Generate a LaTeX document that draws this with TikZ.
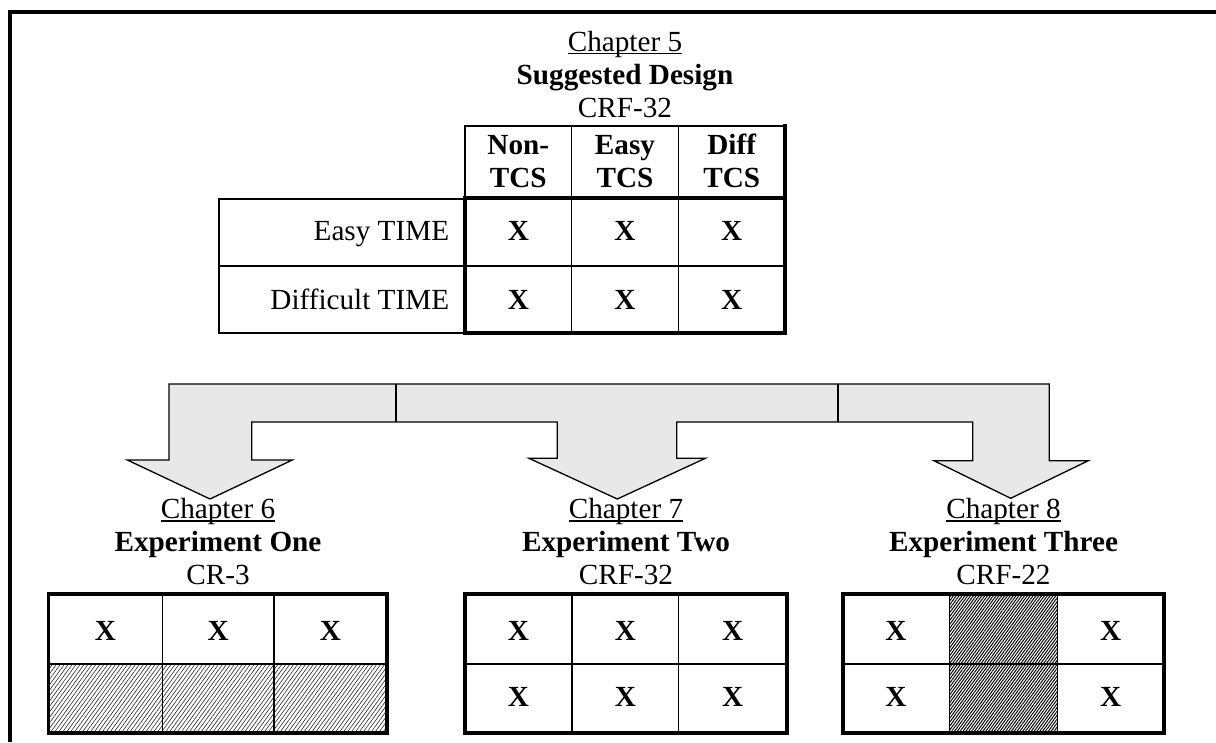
\documentclass[tikz,border=0pt]{standalone}
\usepackage{fontspec}
\setmainfont{Liberation Serif}
\usetikzlibrary{patterns.meta}
\definecolor{arrowfill}{RGB}{232,232,232}
% underline that runs just under the baseline, through descenders
\newcommand\chapline[1]{\setbox0\hbox{#1}\rlap{\rule[-3.4pt]{\wd0}{1.3pt}}\box0}
\begin{document}
\begin{tikzpicture}[x=1pt,y=-1pt,
  txt/.style={inner sep=0pt, anchor=base, font=\fontsize{29.2}{33}\selectfont},
  bold/.style={inner sep=0pt, anchor=base, font=\fontsize{29.2}{33}\selectfont\bfseries},
  thinrule/.style={line width=1.3pt},
  thickrule/.style={line width=3.8pt, line join=miter},
  lighthatch/.style={pattern={Lines[angle=54,distance=3.2pt,line width=0.65pt]}, pattern color=black!80},
  densehatch/.style={pattern={Lines[angle=54,distance=2.3pt,line width=1pt]}, pattern color=black},
  arrowshape/.style={fill=arrowfill, draw=black, line width=1.3pt, line join=miter}]
\useasboundingbox (0,0) rectangle (1216,742);

% page frame (top and left edges)
\draw[line width=4pt, line join=miter] (9.5,742) -- (9.5,12) -- (1216,12);

% ---------- suggested design ----------
\node[txt]  (c5a) at (625,51)   {\chapline{Chapter 5}};
\node[bold] (c5b) at (625,84.5) {Suggested Design};
\node[txt]  (c5c) at (625,117)  {CRF-32};

% row label column
\draw[thinrule] (465,199) -- (219,199) -- (219,333) -- (465,333);
\draw[thinrule] (219,266) -- (465,266);
% header cells
\draw[thinrule] (465,198) -- (465,126) -- (785,126);
\draw[thinrule] (571.7,126) -- (571.7,198);
\draw[thinrule] (678.3,126) -- (678.3,198);
\draw[thickrule] (785,124) -- (785,198);
% data block
\draw[thinrule] (465,266) -- (785,266);
\draw[thinrule] (571.7,198) -- (571.7,333);
\draw[thinrule] (678.3,198) -- (678.3,333);
\draw[thickrule] (465,198) rectangle (785,333);

\node[bold] (h1a) at (518.3,154) {Non-};
\node[bold] (h1b) at (518.3,187) {TCS};
\node[bold] (h2a) at (625,154)   {Easy};
\node[bold] (h2b) at (625,187)   {TCS};
\node[bold] (h3a) at (731.7,154) {Diff};
\node[bold] (h3b) at (731.7,187) {TCS};

\node[txt, anchor=base east] (r1) at (449.3,240.7) {Easy TIME};
\node[txt, anchor=base east] (r2) at (449.3,309.3) {Difficult TIME};

\node[bold] (s11) at (518.3,240.7) {X};
\node[bold] (s12) at (625,240.7)   {X};
\node[bold] (s13) at (731.7,240.7) {X};
\node[bold] (s21) at (518.3,309.3) {X};
\node[bold] (s22) at (625,309.3)   {X};
\node[bold] (s23) at (731.7,309.3) {X};

% ---------- branching arrow ----------
\filldraw[arrowshape]
  (169,384) -- (1049.3,384) -- (1049.3,460.7) -- (1088.3,460.7) -- (1010.7,498.3)
  -- (934,460.7) -- (972.7,460.7) -- (972.7,422) -- (676.7,422) -- (676.7,458.3)
  -- (705.3,458.3) -- (617.3,499) -- (529,458.3) -- (557.3,458.3) -- (557.3,422)
  -- (251.7,422) -- (251.7,460) -- (292.3,460) -- (210,499) -- (127.3,460)
  -- (169,460) -- cycle;
\draw[thinrule] (396,384) -- (396,422);
\draw[thinrule] (838,384) -- (838,422);

% ---------- experiment one ----------
\node[txt]  (c6a) at (218,518.3) {\chapline{Chapter 6}};
\node[bold] (c6b) at (218,551.7) {Experiment One};
\node[txt]  (c6c) at (218,584)   {CR-3};
\fill[lighthatch] (48.5,664) rectangle (386.7,733);
\draw[thinrule] (48.5,664) -- (386.7,664);
\draw[thinrule] (162.3,594) -- (162.3,733);
\draw[thinrule] (274,594) -- (274,733);
\draw[thickrule] (48.5,594) rectangle (386.7,733);
\node[bold] (e11) at (105.4,640) {X};
\node[bold] (e12) at (218.2,640) {X};
\node[bold] (e13) at (330.4,640) {X};

% ---------- experiment two ----------
\node[txt]  (c7a) at (626,518.3) {\chapline{Chapter 7}};
\node[bold] (c7b) at (626,551.7) {Experiment Two};
\node[txt]  (c7c) at (626,584)   {CRF-32};
\draw[thinrule] (465,664) -- (786.7,664);
\draw[thinrule] (572,594) -- (572,733);
\draw[thinrule] (678.7,594) -- (678.7,733);
\draw[thickrule] (465,594) rectangle (786.7,733);
\node[bold] (f11) at (518.5,640)   {X};
\node[bold] (f12) at (625.3,640)   {X};
\node[bold] (f13) at (732.7,640)   {X};
\node[bold] (f21) at (518.5,706.7) {X};
\node[bold] (f22) at (625.3,706.7) {X};
\node[bold] (f23) at (732.7,706.7) {X};

% ---------- experiment three ----------
\node[txt]  (c8a) at (1003.5,518.3) {\chapline{Chapter 8}};
\node[bold] (c8b) at (1003.5,551.7) {Experiment Three};
\node[txt]  (c8c) at (1003.5,584)   {CRF-22};
\fill[densehatch] (949.3,594) rectangle (1057.3,733);
\draw[thinrule] (842.7,664) -- (1164,664);
\draw[thinrule] (949.3,594) -- (949.3,733);
\draw[thinrule] (1057.3,594) -- (1057.3,733);
\draw[thickrule] (842.7,594) rectangle (1164,733);
\node[bold] (g11) at (896,640)      {X};
\node[bold] (g13) at (1110.7,640)   {X};
\node[bold] (g21) at (896,706.7)    {X};
\node[bold] (g23) at (1110.7,706.7) {X};
\end{tikzpicture}
\end{document}
